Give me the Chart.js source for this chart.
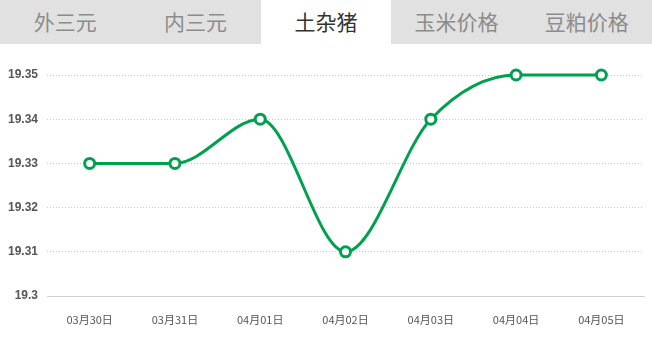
<!DOCTYPE html>
<html>
<head>
<meta charset="utf-8">
<script src="https://cdn.jsdelivr.net/npm/chart.js@4/dist/chart.umd.min.js"></script>
<style>
  html, body { margin: 0; padding: 0; background: #fff; }
  body { width: 652px; height: 341px; overflow: hidden; }
  .tabs { display: flex; height: 44px; background: #e1e1e1; }
  .tabs div {
    flex: 1; text-align: center; line-height: 42px;
    font-family: "Noto Sans CJK SC", sans-serif; font-size: 21px; color: #8c8c8c;
  }
  .tabs div.on { background: #fff; color: #333; }
  .wrap { position: relative; width: 652px; height: 297px; }
</style>
</head>
<body>
<div class="tabs" id="tabs"></div>
<div class="wrap"><canvas id="c"></canvas></div>
<script>
const tabNames = ['外三元', '内三元', '土杂猪', '玉米价格', '豆粕价格'];
const activeTab = 2;
const dates = ['03月30日', '03月31日', '04月01日', '04月02日', '04月03日', '04月04日', '04月05日'];
const prices = [19.33, 19.33, 19.34, 19.31, 19.34, 19.35, 19.35];
const yMin = 19.3, yMax = 19.35, yStep = 0.01;

const tabs = document.getElementById('tabs');
tabNames.forEach((t, i) => {
  const d = document.createElement('div');
  d.textContent = t;
  if (i === activeTab) d.className = 'on';
  tabs.appendChild(d);
});

const green = '#00a04e';
new Chart(document.getElementById('c'), {
  type: 'line',
  data: {
    labels: dates,
    datasets: [{
      data: prices,
      borderColor: green,
      borderWidth: 3,
      cubicInterpolationMode: 'monotone',
      pointRadius: 5,
      pointBorderWidth: 3,
      pointBackgroundColor: '#fff',
      pointBorderColor: green,
      fill: false,
      clip: false
    }]
  },
  options: {
    responsive: true,
    maintainAspectRatio: false,
    animation: false,
    layout: { padding: { top: 31, right: 1, left: 0, bottom: 0 } },
    plugins: { legend: { display: false }, tooltip: { enabled: false } },
    scales: {
      x: {
        offset: true,
        grid: { display: false, drawTicks: false },
        border: { display: true, color: '#d0d0d0', width: 1 },
        ticks: {
          padding: 17,
          color: '#555',
          font: { family: '"Noto Sans CJK SC", sans-serif', size: 11 }
        },
        afterFit: s => { s.height = 45; }
      },
      y: {
        min: yMin, max: yMax,
        grid: { color: '#c8c8c8', borderDash: [1, 2], drawTicks: false },
        border: { display: false, dash: [1, 2] },
        ticks: {
          stepSize: yStep,
          padding: 9,
          color: '#555',
          font: { family: '"Liberation Sans", Arial, sans-serif', size: 12, weight: 'bold' },
          callback: v => String(Math.round(v * 100) / 100)
        },
        afterFit: s => { s.width = 47; }
      }
    }
  }
});
</script>
</body>
</html>
